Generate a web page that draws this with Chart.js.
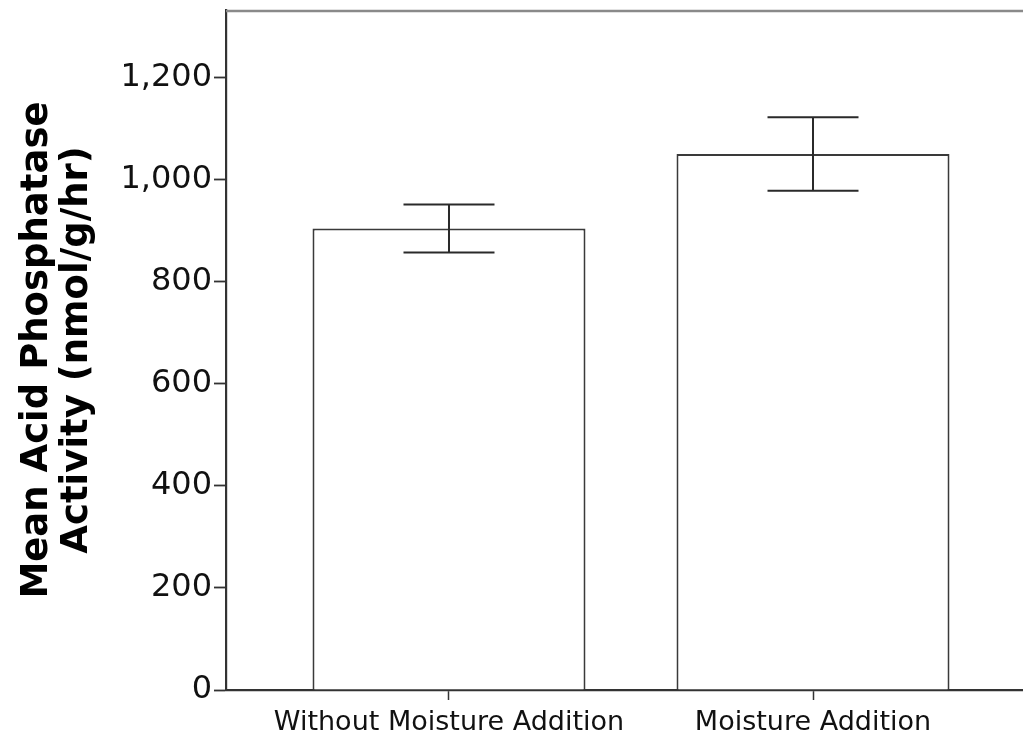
<!DOCTYPE html>
<html>
<head>
<meta charset="utf-8">
<title>Mean Acid Phosphatase Activity</title>
<script src="https://cdn.jsdelivr.net/npm/chart.js@4/dist/chart.umd.min.js"></script>
<style>
  html, body { margin: 0; padding: 0; background: #fff; overflow: hidden; }
  canvas { display: block; }
</style>
</head>
<body>
<canvas id="chart" width="1050" height="736"></canvas>
<script>
// Treatment groups and their mean activity (nmol/g/hr)
const categories = ['Without Moisture Addition', 'Moisture Addition'];
const meanActivity = [905, 1051];
// Half-width of the error bar for each group
const errorHalfWidth = [47, 72];
// Value axis ticks
const yTickValues = [0, 200, 400, 600, 800, 1000, 1200];
const yMax = 1333.3;

const axisColor = '#333333';
const textColor = '#111111';

// Error bars drawn from the dataset values through the y scale
const errorBarPlugin = {
  id: 'errorBars',
  afterDatasetsDraw(chart) {
    const { ctx } = chart;
    const yScale = chart.scales.y;
    const meta = chart.getDatasetMeta(0);
    ctx.save();
    ctx.strokeStyle = '#2a2a2a';
    ctx.lineWidth = 2;
    meta.data.forEach((bar, i) => {
      const x = bar.x;
      const hi = yScale.getPixelForValue(meanActivity[i] + errorHalfWidth[i]);
      const lo = yScale.getPixelForValue(meanActivity[i] - errorHalfWidth[i]);
      const cap = bar.width / 3;
      ctx.beginPath();
      ctx.moveTo(x, hi); ctx.lineTo(x, lo);
      ctx.moveTo(x - cap / 2, hi); ctx.lineTo(x + cap / 2, hi);
      ctx.moveTo(x - cap / 2, lo); ctx.lineTo(x + cap / 2, lo);
      ctx.stroke();
    });
    ctx.restore();
  }
};

// Upper frame line of the plot area
const frameTopPlugin = {
  id: 'frameTop',
  afterDraw(chart) {
    const { ctx, chartArea } = chart;
    ctx.save();
    ctx.strokeStyle = '#8a8a8a';
    ctx.lineWidth = 2.5;
    ctx.beginPath();
    ctx.moveTo(chartArea.left, chartArea.top + 1);
    ctx.lineTo(chartArea.right, chartArea.top + 1);
    ctx.stroke();
    ctx.restore();
  }
};

new Chart(document.getElementById('chart'), {
  type: 'bar',
  data: {
    datasets: [{
      data: meanActivity.map((v, i) => ({ x: i, y: v })),
      backgroundColor: '#ffffff',
      borderColor: '#3a3a3a',
      borderWidth: 2,
      barPercentage: 0.75,
      categoryPercentage: 1.0
    }]
  },
  options: {
    responsive: false,
    animation: false,
    devicePixelRatio: 1,
    layout: { padding: { top: 10, right: 14, left: 0, bottom: 0 } },
    plugins: {
      legend: { display: false },
      tooltip: { enabled: false }
    },
    scales: {
      x: {
        type: 'linear',
        offset: false,
        min: -0.6126,
        max: categories.length - 1 + 0.6126,
        afterBuildTicks(scale) {
          scale.ticks = categories.map((_, i) => ({ value: i }));
        },
        afterFit(scale) {
          scale.height = 46;
          scale.paddingLeft = 0;
          scale.paddingRight = 0;
        },
        grid: {
          offset: false,
          drawOnChartArea: false,
          drawTicks: true,
          tickLength: 10,
          tickWidth: 1.5,
          color: axisColor
        },
        border: { display: true, color: axisColor, width: 2.2 },
        ticks: {
          autoSkip: false,
          maxRotation: 0,
          padding: 7,
          color: textColor,
          font: { family: 'DejaVu Sans', size: 27 },
          callback: (v) => categories[v] ?? ''
        }
      },
      y: {
        type: 'linear',
        min: 0,
        max: yMax,
        afterBuildTicks(scale) {
          scale.ticks = yTickValues.map(v => ({ value: v }));
        },
        afterFit(scale) {
          scale.width = 226;
          scale.paddingTop = 0;
          scale.paddingBottom = 0;
        },
        grid: {
          drawOnChartArea: false,
          drawTicks: true,
          tickLength: 12,
          tickWidth: 1.8,
          color: axisColor
        },
        border: { display: true, color: axisColor, width: 2.2 },
        ticks: {
          padding: 2,
          color: textColor,
          font: { family: 'DejaVu Sans', size: 32 },
          callback: (v) => Number(v).toLocaleString('en-US')
        },
        title: {
          display: true,
          text: ['Mean Acid Phosphatase', 'Activity (nmol/g/hr)'],
          color: '#000000',
          font: { family: 'DejaVu Sans', size: 37, weight: 'bold', lineHeight: 1.08 },
          padding: { top: 17, bottom: 0 }
        }
      }
    }
  },
  plugins: [errorBarPlugin, frameTopPlugin]
});
</script>
</body>
</html>
